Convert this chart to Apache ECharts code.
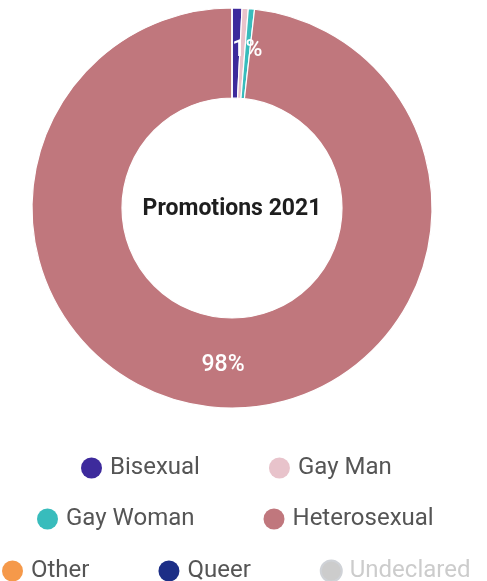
<!DOCTYPE html>
<html>
<head>
<meta charset="utf-8">
<script src="https://cdn.jsdelivr.net/npm/echarts@6/dist/echarts.min.js"></script>
<style>
  html, body { margin: 0; padding: 0; background: #fff; }
  #chart { width: 487px; height: 581px; }
</style>
</head>
<body>
<div id="chart"></div>
<script>
// Promotions 2021 by sexual orientation (share of promotions, %)
const categories = ['Bisexual', 'Gay Man', 'Gay Woman', 'Heterosexual', 'Other', 'Queer', 'Undeclared'];
const values = [0.8, 0.5, 0.5, 98.2, 0, 0, 0];
const colors = ['#3d2a9c', '#e8c3cb', '#38bcbc', '#c0777d', '#f5994a', '#1c2e86', '#bdbdbd'];
const legendRows = [
  ['Bisexual', 'Gay Man'],
  ['Gay Woman', 'Heterosexual'],
  ['Other', 'Queer', 'Undeclared']
];
const hiddenCategories = ['Undeclared'];
const chartTitle = 'Promotions 2021';

const FONT = 'Roboto, "Noto Sans", sans-serif';
// each legend row is centred under the ring
const rowLefts = [81, 37, 2];
const rowTops = [456, 507, 559];

const selected = {};
categories.forEach(c => { selected[c] = hiddenCategories.indexOf(c) < 0; });

const chart = echarts.init(document.getElementById('chart'), null, { renderer: 'canvas' });

chart.setOption({
  animation: false,
  color: colors,
  title: {
    text: chartTitle,
    left: 232,
    top: 209,
    textAlign: 'center',
    textVerticalAlign: 'middle',
    padding: 0,
    textStyle: { fontFamily: FONT, fontSize: 23, fontWeight: 'bold', color: '#1e1e1e' }
  },
  legend: legendRows.map((row, i) => ({
    data: row,
    selected: selected,
    left: rowLefts[i],
    top: rowTops[i],
    orient: 'horizontal',
    padding: 0,
    icon: 'circle',
    itemWidth: 21,
    itemHeight: 21,
    itemGap: 69,
    inactiveColor: '#cccccc',
    itemStyle: { borderWidth: 0 },
    textStyle: { fontFamily: FONT, fontSize: 24, color: '#555555', padding: [0, 0, 0, 3] }
  })),
  series: [{
    type: 'pie',
    center: [232, 208],
    radius: [110, 200],
    startAngle: 90,
    clockwise: true,
    avoidLabelOverlap: false,
    itemStyle: { borderColor: '#ffffff', borderWidth: 1.2 },
    label: {
      show: true,
      position: 'inside',
      color: '#ffffff',
      fontFamily: FONT,
      fontSize: 23,
      fontWeight: 500,
      formatter: p => (p.value > 0 && Math.round(p.percent) > 0) ? Math.round(p.percent) + '%' : ''
    },
    labelLine: { show: false },
    emphasis: { disabled: true },
    data: categories.map((name, i) => ({ name: name, value: values[i] }))
  }]
});
</script>
</body>
</html>
